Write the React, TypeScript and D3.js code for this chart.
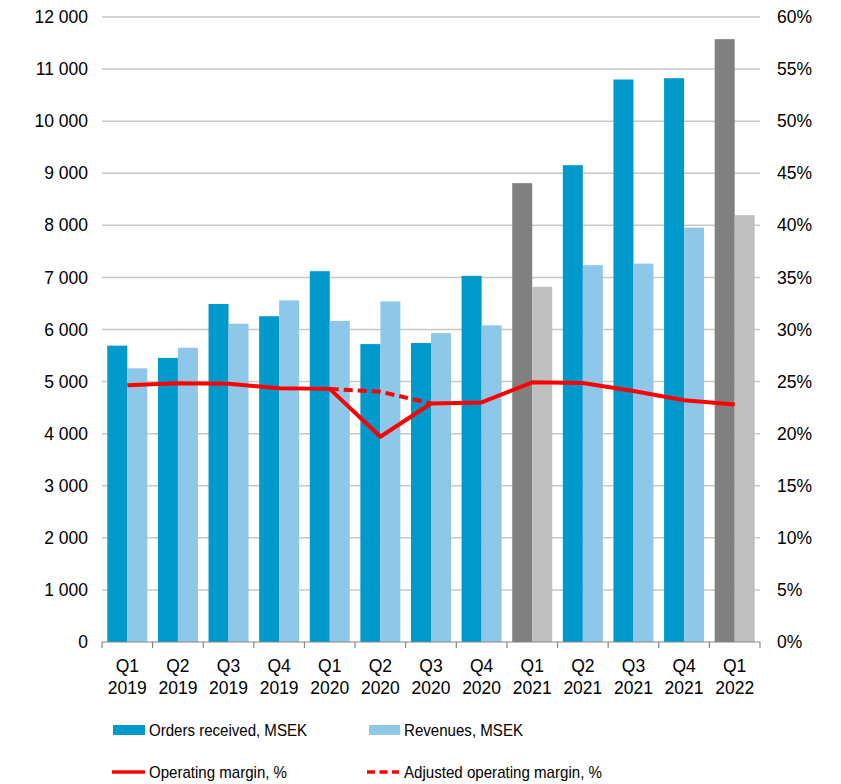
import * as d3 from 'd3';

const quarters = ['Q1 2019', 'Q2 2019', 'Q3 2019', 'Q4 2019', 'Q1 2020', 'Q2 2020', 'Q3 2020', 'Q4 2020', 'Q1 2021', 'Q2 2021', 'Q3 2021', 'Q4 2021', 'Q1 2022'];
const ordersReceived = [5690, 5455, 6490, 6255, 7120, 5720, 5740, 7030, 8810, 9155, 10800, 10825, 11575];
const revenues = [5255, 5650, 6110, 6560, 6165, 6540, 5930, 6080, 6820, 7235, 7265, 7955, 8195];
const operatingMargin = [24.65, 24.85, 24.8, 24.35, 24.3, 19.7, 22.9, 23.0, 24.93, 24.86, 24.1, 23.2, 22.8];
const adjustedMargin: (number | null)[] = [null, null, null, null, 24.3, 24.03, 22.9, null, null, null, null, null, null];
const grayQuarters = ['Q1 2021', 'Q1 2022'];
const leftTicks = [0, 1000, 2000, 3000, 4000, 5000, 6000, 7000, 8000, 9000, 10000, 11000, 12000];
const rightTicks = [0, 5, 10, 15, 20, 25, 30, 35, 40, 45, 50, 55, 60];

const W = 841;
const H = 784;
const margin = { left: 102, right: 81, top: 17, bottom: 142 };
const FONT = 'Arial, "Liberation Sans", sans-serif';
const C_ORDERS = '#0099cc';
const C_REV = '#8fc7e8';
const C_GRAY = '#808080';
const C_LGRAY = '#bfbfbf';
const C_RED = '#ff0000';
const TICK_FS = 17.5;
const LEGEND_FS = 17;

const fmt = (v: number) => d3.format(',')(v).replace(/,/g, ' ');

export default function App() {
  const x0 = d3.scaleBand<string>().domain(quarters).range([margin.left, W - margin.right]).padding(0);
  const x1 = d3.scaleBand<string>().domain(['orders', 'rev']).range([0, x0.bandwidth()]).paddingInner(0).paddingOuter(0.265);
  const y = d3.scaleLinear().domain([0, 12000]).range([H - margin.bottom, margin.top]);
  const y2 = d3.scaleLinear().domain([0, 60]).range([H - margin.bottom, margin.top]);
  const cx = (q: string) => (x0(q) ?? 0) + x0.bandwidth() / 2;

  const line = d3
    .line<number | null>()
    .defined((d) => d !== null)
    .x((_, i) => cx(quarters[i]))
    .y((d) => y2(d as number));

  const x0l = margin.left;
  const x0r = W - margin.right;
  const yBase = y(0);

  return (
    <svg width={W} height={H} style={{ position: 'absolute', left: 0, top: 0, background: '#fff' }} fontFamily={FONT}>
      {/* gridlines */}
      {leftTicks.slice(1).map((t) => (
        <line key={t} x1={x0l} x2={x0r} y1={y(t)} y2={y(t)} stroke="#c8c8c8" strokeWidth={1.5} />
      ))}
      {/* bars */}
      {quarters.map((q, i) => {
        const gray = grayQuarters.includes(q);
        const bx = x0(q) ?? 0;
        return (
          <g key={q}>
            <rect x={bx + (x1('orders') ?? 0)} y={y(ordersReceived[i])} width={x1.bandwidth()} height={yBase - y(ordersReceived[i])} fill={gray ? C_GRAY : C_ORDERS} />
            <rect x={bx + (x1('rev') ?? 0)} y={y(revenues[i])} width={x1.bandwidth()} height={yBase - y(revenues[i])} fill={gray ? C_LGRAY : C_REV} />
          </g>
        );
      })}
      {/* x axis */}
      <line x1={x0l} x2={x0r} y1={yBase} y2={yBase} stroke="#868686" strokeWidth={1.2} />
      {quarters.map((q) => (
        <line key={'t' + q} x1={x0(q)} x2={x0(q)} y1={yBase} y2={yBase + 6} stroke="#868686" strokeWidth={1.2} />
      ))}
      <line x1={x0r} x2={x0r} y1={yBase} y2={yBase + 6} stroke="#868686" strokeWidth={1.2} />
      {quarters.map((q) => {
        const [qq, yr] = q.split(' ');
        return (
          <text key={'l' + q} x={cx(q)} textAnchor="middle" fontSize={TICK_FS} fill="#000">
            <tspan x={cx(q)} y={672}>{qq}</tspan>
            <tspan x={cx(q)} y={694}>{yr}</tspan>
          </text>
        );
      })}
      {/* left axis labels */}
      {leftTicks.map((t) => (
        <text key={'y' + t} x={88} y={y(t)} dy="0.35em" textAnchor="end" fontSize={TICK_FS} fill="#000">
          {fmt(t)}
        </text>
      ))}
      {/* right axis labels */}
      {rightTicks.map((t) => (
        <text key={'r' + t} x={777} y={y2(t)} dy="0.35em" textAnchor="start" fontSize={TICK_FS} fill="#000">
          {t}%
        </text>
      ))}
      {/* lines */}
      <path d={line(adjustedMargin) ?? ''} fill="none" stroke={C_RED} strokeWidth={4} strokeDasharray="9 5" />
      <path d={line(operatingMargin) ?? ''} fill="none" stroke={C_RED} strokeWidth={4} strokeLinejoin="round" />
      {/* legend */}
      <rect x={113} y={725} width={32} height={10} fill={C_ORDERS} />
      <text x={149} y={730} dy="0.35em" fontSize={LEGEND_FS} textLength={158} lengthAdjust="spacingAndGlyphs">Orders received, MSEK</text>
      <rect x={369} y={725} width={31} height={10} fill={C_REV} />
      <text x={404} y={730} dy="0.35em" fontSize={LEGEND_FS} textLength={119} lengthAdjust="spacingAndGlyphs">Revenues, MSEK</text>
      <line x1={112} x2={145} y1={772} y2={772} stroke={C_RED} strokeWidth={3.5} />
      <text x={149} y={772} dy="0.35em" fontSize={LEGEND_FS} textLength={138} lengthAdjust="spacingAndGlyphs">Operating margin, %</text>
      <line x1={367} x2={399} y1={772} y2={772} stroke={C_RED} strokeWidth={3.5} strokeDasharray="8 4.5" />
      <text x={404} y={772} dy="0.35em" fontSize={LEGEND_FS} textLength={198} lengthAdjust="spacingAndGlyphs">Adjusted operating margin, %</text>
    </svg>
  );
}
